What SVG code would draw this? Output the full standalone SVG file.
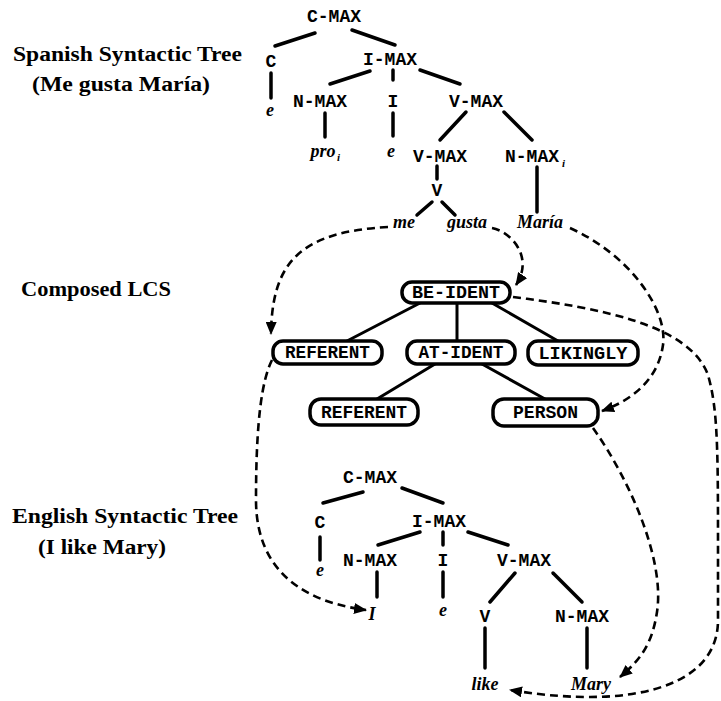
<svg xmlns="http://www.w3.org/2000/svg" width="721" height="701" viewBox="0 0 721 701">
<style>
.lbl{font-family:"Liberation Serif",serif;font-weight:bold;font-size:20px;fill:#000}
.nd{font-family:"Liberation Mono",monospace;font-weight:bold;font-size:18px;fill:#000;text-anchor:middle}
.it{font-family:"Liberation Serif",serif;font-style:italic;font-weight:bold;font-size:18px;fill:#000;text-anchor:middle}
.sub{font-family:"Liberation Serif",serif;font-style:italic;font-weight:bold;font-size:11px;fill:#000}
.tr{stroke:#000;stroke-width:3.5;stroke-linecap:round;fill:none}
.lt{stroke:#000;stroke-width:3;stroke-linecap:round;fill:none}
.box{fill:#fff;stroke:#000;stroke-width:3.5}
.dash{stroke:#000;stroke-width:2.6;stroke-dasharray:8 5;fill:none}
</style>
<defs>
<marker id="ah" markerUnits="userSpaceOnUse" markerWidth="13" markerHeight="11" refX="12" refY="5.5" orient="auto">
<path d="M0,0 L13,5.5 L0,11 z" fill="#000"/>
</marker>
</defs>
<rect width="721" height="701" fill="#fff"/>

<g id="labels">
<text class="lbl" x="13" y="61" textLength="229" lengthAdjust="spacingAndGlyphs">Spanish Syntactic Tree</text>
<text class="lbl" x="32" y="91" textLength="178" lengthAdjust="spacingAndGlyphs">(Me gusta María)</text>
<text class="lbl" x="21" y="296" textLength="150" lengthAdjust="spacingAndGlyphs">Composed LCS</text>
<text class="lbl" x="12" y="523" textLength="226" lengthAdjust="spacingAndGlyphs">English Syntactic Tree</text>
<text class="lbl" x="38" y="554" textLength="128" lengthAdjust="spacingAndGlyphs">(I like Mary)</text>
</g>

<g id="connectors">
<!-- Spanish tree edges -->
<line class="tr" x1="315" y1="33" x2="275" y2="46"/>
<line class="tr" x1="352" y1="30" x2="395" y2="45"/>
<line class="tr" x1="271" y1="73" x2="271" y2="98"/>
<line class="tr" x1="370" y1="71" x2="330" y2="84"/>
<line class="tr" x1="393" y1="70" x2="393" y2="80"/>
<line class="tr" x1="420" y1="70" x2="460" y2="84"/>
<line class="tr" x1="325" y1="113" x2="325" y2="137"/>
<line class="tr" x1="393" y1="113" x2="393" y2="136"/>
<line class="tr" x1="466" y1="112" x2="440" y2="140"/>
<line class="tr" x1="504" y1="112" x2="532" y2="140"/>
<line class="tr" x1="437" y1="166" x2="437" y2="179"/>
<line class="tr" x1="432" y1="202" x2="417" y2="215"/>
<line class="tr" x1="442" y1="202" x2="455" y2="215"/>
<line class="tr" x1="537" y1="167" x2="537" y2="212"/>
<!-- LCS edges -->
<line class="lt" x1="420" y1="303" x2="347" y2="341"/>
<line class="lt" x1="457" y1="303" x2="457" y2="341"/>
<line class="lt" x1="492" y1="303" x2="558" y2="341"/>
<line class="lt" x1="435" y1="364" x2="377" y2="399"/>
<line class="lt" x1="482" y1="364" x2="545" y2="399"/>
<!-- English tree edges -->
<line class="tr" x1="363" y1="492" x2="323" y2="503"/>
<line class="tr" x1="402" y1="488" x2="443" y2="503"/>
<line class="tr" x1="320" y1="537" x2="320" y2="560"/>
<line class="tr" x1="420" y1="532" x2="378" y2="545"/>
<line class="tr" x1="443" y1="532" x2="443" y2="545"/>
<line class="tr" x1="468" y1="532" x2="508" y2="545"/>
<line class="tr" x1="377" y1="572" x2="377" y2="597"/>
<line class="tr" x1="443" y1="572" x2="443" y2="597"/>
<line class="tr" x1="515" y1="573" x2="490" y2="602"/>
<line class="tr" x1="553" y1="573" x2="582" y2="602"/>
<line class="tr" x1="485" y1="628" x2="485" y2="668"/>
<line class="tr" x1="587" y1="628" x2="587" y2="668"/>
<!-- dashed mappings -->
<path class="dash" marker-end="url(#ah)" d="M388 227 C300 232 272 262 271 334"/>
<path class="dash" marker-end="url(#ah)" d="M492 228 C512 232 534 258 516 285"/>
<path class="dash" marker-end="url(#ah)" d="M570 228 C630 255 668 310 663 345 C658 380 632 400 602 411"/>
<path class="dash" marker-end="url(#ah)" d="M513 297 C600 308 690 325 708 375 C718 410 718 450 718 560 L718 620 C718 680 650 697 590 697 C560 697 535 694 510 690"/>
<path class="dash" marker-end="url(#ah)" d="M593 428 C630 480 665 560 657 612 C652 645 640 660 620 677"/>
<path class="dash" marker-end="url(#ah)" d="M272 360 C262 380 256 420 256 500 C256 560 290 600 366 610"/>
</g>

<g id="sp-cmax"><text class="nd" x="334" y="22">C-MAX</text></g>
<g id="sp-c"><text class="nd" x="271" y="67">C</text></g>
<g id="sp-c-e"><text class="it" x="270" y="116">e</text></g>
<g id="sp-imax"><text class="nd" x="390" y="65">I-MAX</text></g>
<g id="sp-nmax"><text class="nd" x="320" y="107">N-MAX</text></g>
<g id="sp-i"><text class="nd" x="393" y="107">I</text></g>
<g id="sp-vmax"><text class="nd" x="476" y="107">V-MAX</text></g>
<g id="sp-pro"><text class="it" x="323" y="157">pro</text><text class="sub" x="337" y="161">i</text></g>
<g id="sp-i-e"><text class="it" x="391" y="157">e</text></g>
<g id="sp-vmax2"><text class="nd" x="440" y="162">V-MAX</text></g>
<g id="sp-nmaxi"><text class="nd" x="532" y="162">N-MAX</text><text class="sub" x="562" y="167">i</text></g>
<g id="sp-v"><text class="nd" x="437" y="196">V</text></g>
<g id="sp-me"><text class="it" x="404" y="228">me</text></g>
<g id="sp-gusta"><text class="it" x="467" y="228">gusta</text></g>
<g id="sp-maria"><text class="it" x="540" y="228">María</text></g>

<g id="lcs-be-ident"><rect class="box" x="402" y="282" width="108" height="21" rx="10"/><text class="nd" x="456" y="298" textLength="88" lengthAdjust="spacingAndGlyphs">BE-IDENT</text></g>
<g id="lcs-referent1"><rect class="box" x="273" y="341" width="109" height="23" rx="10"/><text class="nd" x="327.5" y="358" textLength="85" lengthAdjust="spacingAndGlyphs">REFERENT</text></g>
<g id="lcs-at-ident"><rect class="box" x="407" y="341" width="108" height="23" rx="10"/><text class="nd" x="461" y="358" textLength="85" lengthAdjust="spacingAndGlyphs">AT-IDENT</text></g>
<g id="lcs-likingly"><rect class="box" x="528" y="341" width="110" height="24" rx="10"/><text class="nd" x="583" y="359" textLength="89" lengthAdjust="spacingAndGlyphs">LIKINGLY</text></g>
<g id="lcs-referent2"><rect class="box" x="310" y="399" width="108" height="26" rx="11"/><text class="nd" x="364" y="418" textLength="86" lengthAdjust="spacingAndGlyphs">REFERENT</text></g>
<g id="lcs-person"><rect class="box" x="493" y="399" width="105" height="27" rx="11"/><text class="nd" x="545.5" y="418" textLength="65" lengthAdjust="spacingAndGlyphs">PERSON</text></g>

<g id="en-cmax"><text class="nd" x="370" y="483">C-MAX</text></g>
<g id="en-c"><text class="nd" x="320" y="528">C</text></g>
<g id="en-c-e"><text class="it" x="320" y="576">e</text></g>
<g id="en-imax"><text class="nd" x="439" y="527">I-MAX</text></g>
<g id="en-nmax"><text class="nd" x="370" y="566">N-MAX</text></g>
<g id="en-i"><text class="nd" x="443" y="566">I</text></g>
<g id="en-vmax"><text class="nd" x="524" y="566">V-MAX</text></g>
<g id="en-I"><text class="it" x="372" y="620">I</text></g>
<g id="en-i-e"><text class="it" x="443" y="616">e</text></g>
<g id="en-v"><text class="nd" x="485" y="622">V</text></g>
<g id="en-nmax2"><text class="nd" x="582" y="622">N-MAX</text></g>
<g id="en-like"><text class="it" x="485" y="690">like</text></g>
<g id="en-mary"><text class="it" x="591" y="690">Mary</text></g>
</svg>
